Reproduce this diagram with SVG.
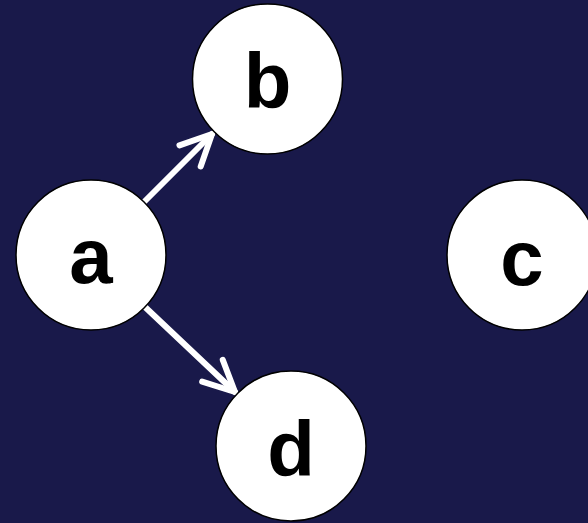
<svg xmlns="http://www.w3.org/2000/svg" width="588" height="523" viewBox="0 0 588 523">
  <style>
    .node circle { fill: #ffffff; stroke: #000000; stroke-width: 1.5; }
    .node text { font-family: "Liberation Sans", Arial, sans-serif; font-weight: bold; font-size: 78px; fill: #000000; text-anchor: middle; }
    .edge { stroke: #ffffff; stroke-width: 6; stroke-linecap: round; fill: none; }
  </style>
  <defs>
    <marker id="vee" markerUnits="userSpaceOnUse" orient="auto" refX="0" refY="0" markerWidth="60" markerHeight="60" viewBox="-40 -30 60 60" overflow="visible">
      <path d="M -31,-15 L 0,0 L -31,15" fill="none" stroke="#ffffff" stroke-width="6" stroke-linecap="round" stroke-linejoin="round"/>
    </marker>
  </defs>
  <rect x="0" y="0" width="588" height="523" fill="#19194a"/>
  <g id="connectors">
    <line class="edge" x1="144" y1="202" x2="212" y2="134" marker-end="url(#vee)"/>
    <line class="edge" x1="145" y1="307" x2="235" y2="392" marker-end="url(#vee)"/>
  </g>
  <g id="node-a" class="node">
    <circle cx="91" cy="255" r="75"/>
    <text x="91" y="283">a</text>
  </g>
  <g id="node-b" class="node">
    <circle cx="267.5" cy="79" r="75"/>
    <text x="267.5" y="108">b</text>
  </g>
  <g id="node-c" class="node">
    <circle cx="522" cy="255" r="75"/>
    <text x="522" y="285">c</text>
  </g>
  <g id="node-d" class="node">
    <circle cx="291" cy="446" r="75"/>
    <text x="291" y="476">d</text>
  </g>
</svg>
